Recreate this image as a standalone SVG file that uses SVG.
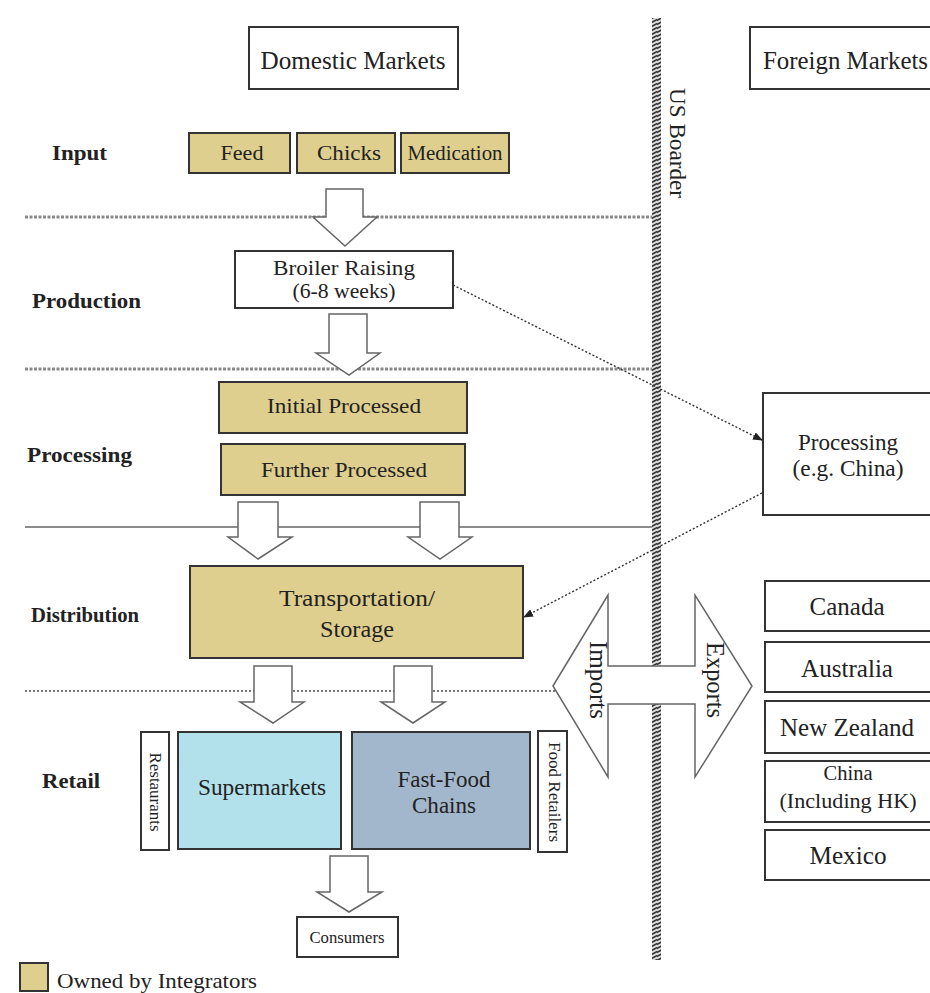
<svg xmlns="http://www.w3.org/2000/svg" width="930" height="993" viewBox="0 0 930 993">
<defs>
<style>
text{font-family:"Liberation Serif","Times New Roman",serif;fill:#222}
.lbl{font-weight:bold;font-size:22px}
.box{fill:#fff;stroke:#333;stroke-width:2}
.own{fill:#dfcf8e;stroke:#333;stroke-width:2}
.harrow{fill:#fff;stroke:#666;stroke-width:1.5}
.mid{text-anchor:middle}
.conn{fill:none;stroke:#333;stroke-width:1.4;stroke-dasharray:2 2}
</style>
<pattern id="hatch" patternUnits="userSpaceOnUse" width="9" height="4">
<rect width="9" height="4" fill="#ddd"/>
<path d="M-1,5 L10,-1 M-1,9 L10,3 M-1,1 L10,-5" stroke="#333" stroke-width="1.6"/>
</pattern>
<marker id="ah" markerWidth="10" markerHeight="8" refX="9" refY="4" orient="auto" markerUnits="userSpaceOnUse">
<path d="M0,0 L10,4 L0,8 Z" fill="#222"/>
</marker>
</defs>
<rect width="930" height="993" fill="#fff"/>

<g id="dividers">
<line x1="25" y1="217" x2="653" y2="217" stroke="#888" stroke-width="3" stroke-dasharray="3 1.5"/>
<line x1="25" y1="369" x2="653" y2="369" stroke="#888" stroke-width="3" stroke-dasharray="3 1.5"/>
<line x1="25" y1="527" x2="653" y2="527" stroke="#666" stroke-width="1.5"/>
<line x1="25" y1="691" x2="555" y2="691" stroke="#777" stroke-width="2" stroke-dasharray="2 2"/>
</g>

<g id="us-border">
<rect x="652" y="18" width="9" height="942" fill="url(#hatch)"/>
<text transform="translate(670,143) rotate(90)" class="mid" font-size="23" textLength="110" lengthAdjust="spacingAndGlyphs">US Boarder</text>
</g>

<g id="domestic-markets"><rect class="box" x="249" y="27" width="209" height="62"/><text x="353" y="69" class="mid" font-size="25" textLength="185" lengthAdjust="spacingAndGlyphs">Domestic Markets</text></g>
<g id="foreign-markets"><rect class="box" x="750" y="27" width="185" height="62"/><text x="763" y="69" font-size="25" textLength="165" lengthAdjust="spacingAndGlyphs">Foreign Markets</text></g>

<g id="stage-labels">
<text x="52" y="160" class="lbl" textLength="55" lengthAdjust="spacingAndGlyphs">Input</text>
<text x="32" y="308" class="lbl" textLength="109" lengthAdjust="spacingAndGlyphs">Production</text>
<text x="27" y="462" class="lbl" textLength="105" lengthAdjust="spacingAndGlyphs">Processing</text>
<text x="31" y="622" class="lbl" textLength="108" lengthAdjust="spacingAndGlyphs">Distribution</text>
<text x="42" y="788" class="lbl" textLength="58" lengthAdjust="spacingAndGlyphs">Retail</text>
</g>

<g id="feed"><rect class="own" x="189" y="133" width="101" height="40"/><text x="242" y="160" class="mid" font-size="22" textLength="43" lengthAdjust="spacingAndGlyphs">Feed</text></g>
<g id="chicks"><rect class="own" x="297" y="133" width="98" height="40"/><text x="349" y="160" class="mid" font-size="22" textLength="64" lengthAdjust="spacingAndGlyphs">Chicks</text></g>
<g id="medication"><rect class="own" x="401" y="133" width="108" height="40"/><text x="455" y="160" class="mid" font-size="20" textLength="95" lengthAdjust="spacingAndGlyphs">Medication</text></g>

<g id="broiler-raising"><rect class="box" x="235" y="251" width="218" height="57"/>
<text x="344" y="275" class="mid" font-size="22" textLength="142" lengthAdjust="spacingAndGlyphs">Broiler Raising</text>
<text x="344" y="298" class="mid" font-size="21" textLength="103" lengthAdjust="spacingAndGlyphs">(6-8 weeks)</text></g>

<g id="initial-processed"><rect class="own" x="219" y="382" width="248" height="51"/><text x="344" y="413" class="mid" font-size="22" textLength="154" lengthAdjust="spacingAndGlyphs">Initial Processed</text></g>
<g id="further-processed"><rect class="own" x="221" y="444" width="244" height="51"/><text x="344" y="477" class="mid" font-size="22" textLength="166" lengthAdjust="spacingAndGlyphs">Further Processed</text></g>

<g id="transportation-storage"><rect class="own" x="190" y="566" width="333" height="92"/>
<text x="357" y="606" class="mid" font-size="24" textLength="156" lengthAdjust="spacingAndGlyphs">Transportation/</text>
<text x="357" y="637" class="mid" font-size="24" textLength="74" lengthAdjust="spacingAndGlyphs">Storage</text></g>

<g id="restaurants"><rect class="box" x="141" y="732" width="28" height="118"/><text transform="translate(150,792) rotate(90)" class="mid" font-size="17" textLength="79" lengthAdjust="spacingAndGlyphs">Restaurants</text></g>
<g id="supermarkets"><rect x="178" y="732" width="163" height="117" fill="#b2e1ec" stroke="#333" stroke-width="2"/><text x="262" y="795" class="mid" font-size="23" textLength="128" lengthAdjust="spacingAndGlyphs">Supermarkets</text></g>
<g id="fast-food-chains"><rect x="352" y="732" width="178" height="117" fill="#a2b6cc" stroke="#333" stroke-width="2"/>
<text x="444" y="787" class="mid" font-size="23" textLength="93" lengthAdjust="spacingAndGlyphs">Fast-Food</text>
<text x="444" y="813" class="mid" font-size="23" textLength="64" lengthAdjust="spacingAndGlyphs">Chains</text></g>
<g id="food-retailers"><rect class="box" x="538" y="731" width="29" height="121"/><text transform="translate(549,792) rotate(90)" class="mid" font-size="16" textLength="100" lengthAdjust="spacingAndGlyphs">Food Retailers</text></g>

<g id="consumers"><rect class="box" x="297" y="917" width="101" height="40"/><text x="347" y="943" class="mid" font-size="16.5" textLength="75" lengthAdjust="spacingAndGlyphs">Consumers</text></g>

<g id="processing-china"><rect class="box" x="763" y="393" width="172" height="122"/>
<text x="848" y="450" class="mid" font-size="23" textLength="100" lengthAdjust="spacingAndGlyphs">Processing</text>
<text x="848" y="476" class="mid" font-size="23" textLength="111" lengthAdjust="spacingAndGlyphs">(e.g. China)</text></g>

<g id="canada"><rect class="box" x="765" y="581" width="170" height="50"/><text x="847" y="615" class="mid" font-size="25" textLength="75" lengthAdjust="spacingAndGlyphs">Canada</text></g>
<g id="australia"><rect class="box" x="765" y="642" width="170" height="50"/><text x="847" y="677" class="mid" font-size="25" textLength="92" lengthAdjust="spacingAndGlyphs">Australia</text></g>
<g id="new-zealand"><rect class="box" x="765" y="701" width="170" height="52"/><text x="847" y="736" class="mid" font-size="25" textLength="134" lengthAdjust="spacingAndGlyphs">New Zealand</text></g>
<g id="china-hk"><rect class="box" x="765" y="761" width="170" height="61"/>
<text x="848" y="780" class="mid" font-size="20" textLength="49" lengthAdjust="spacingAndGlyphs">China</text>
<text x="848" y="808" class="mid" font-size="22" textLength="137" lengthAdjust="spacingAndGlyphs">(Including HK)</text></g>
<g id="mexico"><rect class="box" x="765" y="830" width="170" height="50"/><text x="848" y="864" class="mid" font-size="25" textLength="77" lengthAdjust="spacingAndGlyphs">Mexico</text></g>

<g id="connectors">
<polygon class="harrow" points="326,189 363,189 363,217 377,217 345,246 313,217 326,217"/>
<polygon class="harrow" points="329,314 367,314 367,353 380,353 349,375 316,353 329,353"/>
<polygon class="harrow" points="238,502 278,502 278,537 292,537 258,559 228,537 238,537"/>
<polygon class="harrow" points="420,502 459,502 459,537 472,537 440,559 408,537 420,537"/>
<polygon class="harrow" points="254,666 292,666 292,702 304,702 273,723 240,702 254,702"/>
<polygon class="harrow" points="394,666 432,666 432,702 445,702 413,723 381,702 394,702"/>
<polygon class="harrow" points="330,856 368,856 368,892 382,892 349,912 317,892 330,892"/>
<line class="conn" x1="453" y1="285" x2="762" y2="440" marker-end="url(#ah)"/>
<line class="conn" x1="762" y1="493" x2="524" y2="617" marker-end="url(#ah)"/>
<g id="imports-exports">
<polygon class="harrow" points="553,686 608,595 608,666 695,666 695,595 752,686 695,777 695,704 608,704 608,777"/>
<text transform="translate(590,680) rotate(90)" class="mid" font-size="25" textLength="78" lengthAdjust="spacingAndGlyphs">Imports</text>
<text transform="translate(707,680) rotate(90)" class="mid" font-size="25" textLength="76" lengthAdjust="spacingAndGlyphs">Exports</text>
</g>
</g>

<g id="legend"><rect class="own" x="20" y="963" width="28" height="28"/><text x="57" y="988" font-size="21" textLength="200" lengthAdjust="spacingAndGlyphs">Owned by Integrators</text></g>
</svg>
